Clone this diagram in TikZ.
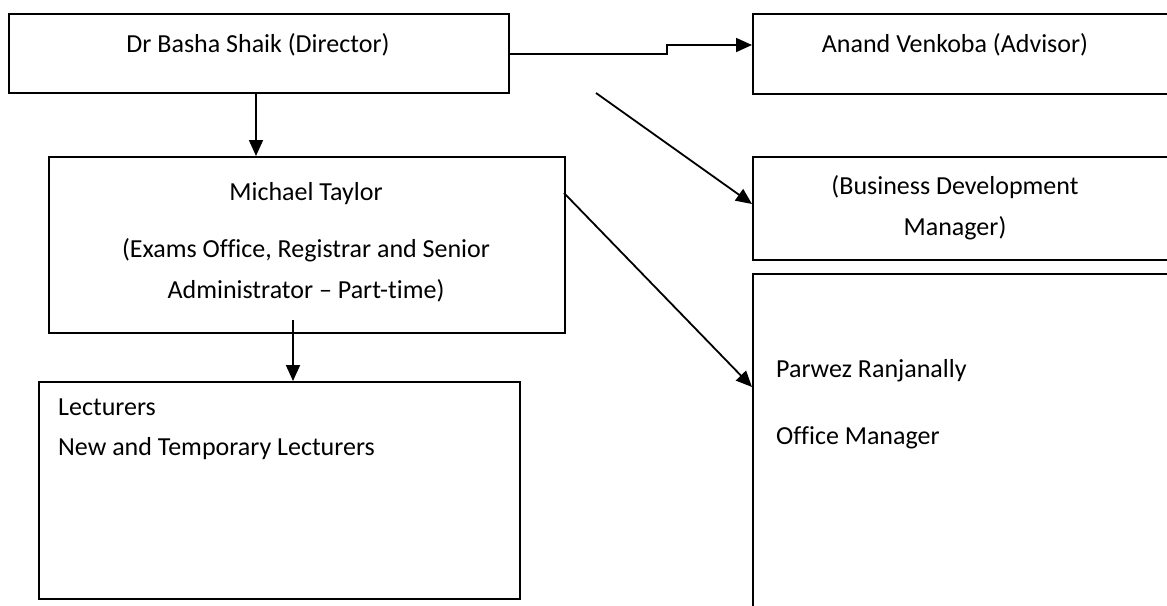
\documentclass[tikz,border=0pt]{standalone}
\usepackage{fontspec}
\setmainfont{Carlito}[Ligatures=CommonOff]
\usetikzlibrary{arrows.meta}
\begin{document}
\begin{tikzpicture}[x=1pt,y=-1pt,
  box/.style={draw=black, line width=1.8pt, anchor=north west, inner sep=0pt},
  lbl/.style={font=\fontsize{26}{31}\selectfont, inner sep=0pt},
  arr/.style={line width=1.8pt, -{Triangle[length=16pt,width=14pt]}}]
\useasboundingbox (0,0) rectangle (1167,605);
% boxes
\node[box, minimum width=500pt, minimum height=79pt] (dir) at (8,13) {};
\node[box, minimum width=430pt, minimum height=80pt] (adv) at (752,13) {};
\node[box, minimum width=430pt, minimum height=103pt] (bdm) at (752,156) {};
\node[box, minimum width=430pt, minimum height=360pt] (off) at (752,273) {};
\node[box, minimum width=516pt, minimum height=176pt] (mich) at (48,156) {};
\node[box, minimum width=481pt, minimum height=217pt] (lect) at (38,381) {};
% texts
\node[lbl] (tdir) at (258,45) {Dr Basha Shaik (Director)};
\node[lbl] (tadv) at (955,45) {Anand Venkoba (Advisor)};
\node[lbl] (tbdm1) at (955,187) {(Business Development};
\node[lbl] (tbdm2) at (955,228) {Manager)};
\node[lbl] (tmich1) at (306,194) {Michael Taylor};
\node[lbl] (tmich2) at (306,250) {(Exams Office, Registrar and Senior};
\node[lbl] (tmich3) at (306,291) {Administrator -- Part-time)};
\node[lbl, anchor=west] (toff1) at (776,371) {Parwez Ranjanally};
\node[lbl, anchor=west] (toff2) at (776,438) {Office Manager};
\node[lbl, anchor=west] (tlect1) at (58,407) {Lecturers};
\node[lbl, anchor=west] (tlect2) at (58,449) {New and Temporary Lecturers};
% connectors
\coordinate (e1) at (667,54);
\coordinate (e2) at (667,45);
\draw[arr] (dir.east |- e1) -- (e1) -- (e2) -- (adv.west |- e2);
\draw[arr] (dir.south -| 256,0) -- (mich.north -| 256,0);
\coordinate (d2) at (596,93);
\draw[arr] (d2) -- (bdm.west |- 0,204);
\coordinate (m1) at (564,193);
\draw[arr] (m1) -- (off.west |- 0,387);
\coordinate (m2) at (293,320);
\draw[arr] (m2) -- (lect.north -| m2);
\end{tikzpicture}
\end{document}
